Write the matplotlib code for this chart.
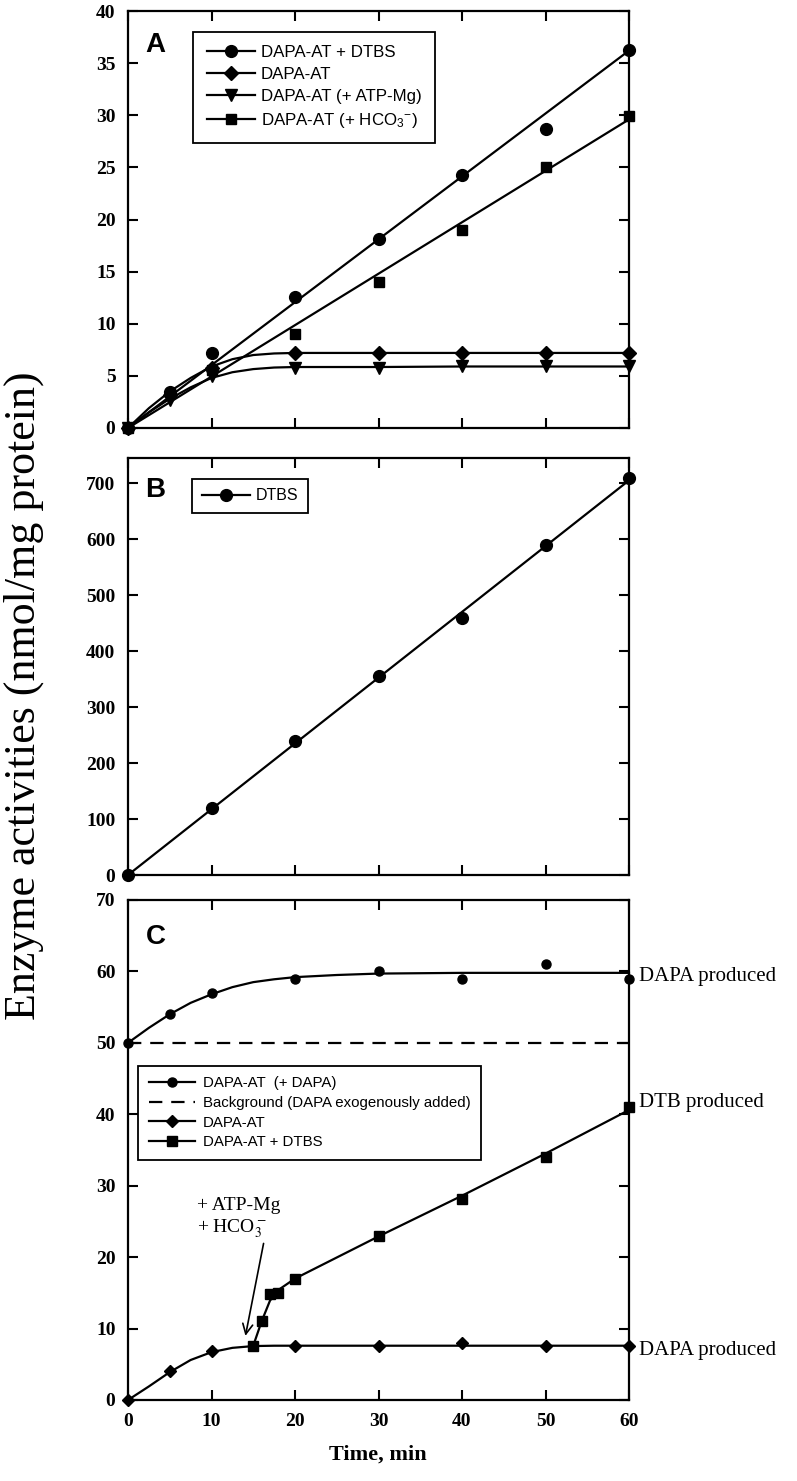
import matplotlib
matplotlib.use("Agg")
import matplotlib.pyplot as plt
from matplotlib.lines import Line2D

plt.rcParams['mathtext.fontset'] = 'custom'
plt.rcParams['mathtext.rm'] = 'Liberation Sans'
plt.rcParams['mathtext.it'] = 'Liberation Sans:italic'
plt.rcParams['mathtext.bf'] = 'Liberation Sans:bold'

SERIF = 'Liberation Serif'
SANS = 'Liberation Sans'

# ---------------- Panel A data ----------------
a_x = [0, 5, 10, 20, 30, 40, 50, 60]
a_dtbs = [0, 3.5, 7.2, 12.6, 18.1, 24.3, 28.7, 36.3]
a_dtbs_fit_x = [0, 60]
a_dtbs_fit_y = [0, 36.2]

a_dapaat = [0, 3.2, 5.8, 7.2, 7.2, 7.2, 7.2, 7.2]
a_dapaat_fit_x = [0, 2.5, 5, 7.5, 10, 12.5, 15, 17.5, 20, 30, 40, 50, 60]
a_dapaat_fit_y = [0, 1.9, 3.5, 4.8, 5.9, 6.6, 7.0, 7.15, 7.2, 7.2, 7.2, 7.2, 7.2]

a_atp = [0, 2.7, 5.0, 5.8, 5.8, 5.9, 5.9, 5.9]
a_atp_fit_x = [0, 2.5, 5, 7.5, 10, 12.5, 15, 17.5, 20, 30, 40, 50, 60]
a_atp_fit_y = [0, 1.5, 2.8, 3.9, 4.8, 5.35, 5.65, 5.8, 5.85, 5.85, 5.9, 5.9, 5.9]

a_hco3_x = [0, 10, 20, 30, 40, 50, 60]
a_hco3 = [0, 5.6, 9.0, 14.0, 19.0, 25.0, 29.9]
a_hco3_fit_x = [0, 60]
a_hco3_fit_y = [0, 29.6]

# ---------------- Panel B data ----------------
b_x = [0, 10, 20, 30, 40, 50, 60]
b_dtbs = [0, 120, 240, 355, 460, 590, 710]
b_fit_x = [0, 60]
b_fit_y = [0, 705]

# ---------------- Panel C data ----------------
c_dapa_x = [0, 5, 10, 20, 30, 40, 50, 60]
c_dapa = [50, 54, 57, 59, 60, 59, 61, 59]
c_dapa_fit_x = [0, 2.5, 5, 7.5, 10, 12.5, 15, 17.5, 20, 25, 30, 40, 50, 60]
c_dapa_fit_y = [50, 52.1, 54.0, 55.6, 56.8, 57.8, 58.5, 58.9, 59.2, 59.5, 59.7, 59.8, 59.8, 59.8]

c_bg_x = [0, 60]
c_bg_y = [50, 50]

c_at_x = [0, 5, 10, 20, 30, 40, 50, 60]
c_at = [0, 4.0, 6.8, 7.6, 7.5, 8.0, 7.5, 7.5]
c_at_fit_x = [0, 2.5, 5, 7.5, 10, 12.5, 15, 17.5, 20, 30, 40, 50, 60]
c_at_fit_y = [0, 1.9, 3.9, 5.6, 6.7, 7.3, 7.55, 7.6, 7.6, 7.6, 7.6, 7.6, 7.6]

c_dtbs_x = [15, 16, 17, 18, 20, 30, 40, 50, 60]
c_dtbs = [7.6, 11.0, 14.8, 15.0, 17.0, 23.0, 28.2, 34.0, 41.0]
c_dtbs_fit_x = [15, 16, 17, 18, 20, 30, 40, 50, 60]
c_dtbs_fit_y = [7.6, 11.0, 13.9, 15.4, 17.0, 22.9, 28.6, 34.5, 40.6]

x_ticks = [0, 10, 20, 30, 40, 50, 60]
a_yticks = [0, 5, 10, 15, 20, 25, 30, 35, 40]
b_yticks = [0, 100, 200, 300, 400, 500, 600, 700]
c_yticks = [0, 10, 20, 30, 40, 50, 60, 70]

W, H = 797, 1481
fig = plt.figure(figsize=(W / 100, H / 100), dpi=100)


def rect(top, bottom, left=128, right=629):
    return [left / W, 1 - bottom / H, (right - left) / W, (bottom - top) / H]


axA = fig.add_axes(rect(11, 428))
axB = fig.add_axes(rect(458, 875))
axC = fig.add_axes(rect(900, 1400))

LW = 1.6
for ax in (axA, axB, axC):
    for s in ax.spines.values():
        s.set_linewidth(1.6)
    ax.set_xlim(0, 60)
    ax.set_xticks(x_ticks)
    ax.tick_params(direction='in', length=7, width=1.5, top=True, right=True,
                   labelsize=14, pad=9)

for ax in (axA, axB):
    ax.tick_params(labelbottom=False)

# ---- Panel A ----
axA.set_ylim(0, 40)
axA.set_yticks(a_yticks)
axA.set_yticklabels([str(v) for v in a_yticks], fontfamily=SERIF, fontweight='bold', fontsize=14)
axA.plot(a_dtbs_fit_x, a_dtbs_fit_y, color='black', lw=LW, clip_on=False)
axA.plot(a_dapaat_fit_x, a_dapaat_fit_y, color='black', lw=LW, clip_on=False)
axA.plot(a_atp_fit_x, a_atp_fit_y, color='black', lw=LW, clip_on=False)
axA.plot(a_hco3_fit_x, a_hco3_fit_y, color='black', lw=LW, clip_on=False)
axA.plot(a_x, a_dtbs, 'o', color='black', ms=8.5, clip_on=False, zorder=5)
axA.plot(a_x, a_dapaat, 'D', color='black', ms=7, clip_on=False, zorder=5)
axA.plot(a_x, a_atp, 'v', color='black', ms=9, clip_on=False, zorder=5)
axA.plot(a_hco3_x, a_hco3, 's', color='black', ms=7.5, clip_on=False, zorder=5)

hA = [Line2D([], [], color='black', lw=LW, marker='o', ms=8.5),
      Line2D([], [], color='black', lw=LW, marker='D', ms=7),
      Line2D([], [], color='black', lw=LW, marker='v', ms=9),
      Line2D([], [], color='black', lw=LW, marker='s', ms=7.5)]
lA = ['DAPA-AT + DTBS', 'DAPA-AT', 'DAPA-AT (+ ATP-Mg)', r'DAPA-AT (+ HCO$_{3}$$^{-}$)']
legA = axA.legend(hA, lA, loc='upper left', bbox_to_anchor=(0.130, 0.950), borderaxespad=0,
                  frameon=True, fancybox=False, edgecolor='black', framealpha=1,
                  prop={'family': SANS, 'size': 12.2}, handlelength=2.85, handletextpad=0.35,
                  labelspacing=0.4, borderpad=0.8, numpoints=1)
legA.get_frame().set_linewidth(1.3)
axA.text(0.035, 0.918, 'A', transform=axA.transAxes, fontfamily=SANS, fontweight='bold',
         fontsize=20, va='center', ha='left')

# ---- Panel B ----
axB.set_ylim(0, 745)
axB.set_yticks(b_yticks)
axB.set_yticklabels([str(v) for v in b_yticks], fontfamily=SERIF, fontweight='bold', fontsize=14)
axB.plot(b_fit_x, b_fit_y, color='black', lw=LW, clip_on=False)
axB.plot(b_x, b_dtbs, 'o', color='black', ms=8.5, clip_on=False, zorder=5)
hB = [Line2D([], [], color='black', lw=LW, marker='o', ms=8.5)]
legB = axB.legend(hB, ['DTBS'], loc='upper left', bbox_to_anchor=(0.128, 0.950), borderaxespad=0,
                  frameon=True, fancybox=False, edgecolor='black', framealpha=1,
                  prop={'family': SANS, 'size': 11.5}, handlelength=3.0, handletextpad=0.4,
                  borderpad=0.6, numpoints=1)
legB.get_frame().set_linewidth(1.3)
axB.text(0.035, 0.923, 'B', transform=axB.transAxes, fontfamily=SANS, fontweight='bold',
         fontsize=20, va='center', ha='left')

# ---- Panel C ----
axC.set_ylim(0, 70)
axC.set_yticks(c_yticks)
axC.set_yticklabels([str(v) for v in c_yticks], fontfamily=SERIF, fontweight='bold', fontsize=14)
axC.set_xticklabels([str(v) for v in x_ticks], fontfamily=SERIF, fontweight='bold', fontsize=14)
axC.tick_params(axis='x', pad=9)
axC.plot(c_dapa_fit_x, c_dapa_fit_y, color='black', lw=LW, clip_on=False)
axC.plot(c_bg_x, c_bg_y, color='black', lw=LW, ls=(0, (6, 4)), clip_on=False)
axC.plot(c_at_fit_x, c_at_fit_y, color='black', lw=LW, clip_on=False)
axC.plot(c_dtbs_fit_x, c_dtbs_fit_y, color='black', lw=LW, clip_on=False)
axC.plot(c_dapa_x, c_dapa, 'o', color='black', ms=6.5, clip_on=False, zorder=5)
axC.plot(c_at_x, c_at, 'D', color='black', ms=6.5, clip_on=False, zorder=5)
axC.plot(c_dtbs_x, c_dtbs, 's', color='black', ms=7.5, clip_on=False, zorder=5)

hC = [Line2D([], [], color='black', lw=LW, marker='o', ms=6.5),
      Line2D([], [], color='black', lw=LW, ls=(0, (6, 4))),
      Line2D([], [], color='black', lw=LW, marker='D', ms=6.5),
      Line2D([], [], color='black', lw=LW, marker='s', ms=7.5)]
lC = ['DAPA-AT  (+ DAPA)', 'Background (DAPA exogenously added)', 'DAPA-AT', 'DAPA-AT + DTBS']
legC = axC.legend(hC, lC, loc='upper left', bbox_to_anchor=(0.02, 0.668), borderaxespad=0,
                  frameon=True, fancybox=False, edgecolor='black', framealpha=1,
                  prop={'family': SANS, 'size': 10.8}, handlelength=3.1, handletextpad=0.5,
                  labelspacing=0.37, borderpad=0.7, numpoints=1)
legC.get_frame().set_linewidth(1.3)
axC.text(0.035, 0.926, 'C', transform=axC.transAxes, fontfamily=SANS, fontweight='bold',
         fontsize=20, va='center', ha='left')

axC.text(61.2, 59.3, 'DAPA produced', fontfamily=SERIF, fontsize=15, va='center', ha='left',
         clip_on=False)
axC.text(61.2, 41.6, 'DTB produced', fontfamily=SERIF, fontsize=15, va='center', ha='left',
         clip_on=False)
axC.text(61.2, 7.0, 'DAPA produced', fontfamily=SERIF, fontsize=15, va='center', ha='left',
         clip_on=False)

axC.text(8.3, 27.3, '+ ATP-Mg', fontfamily=SERIF, fontsize=14, va='center', ha='left')
axC.text(8.3, 24.0, r'+ HCO$_3^-$', fontfamily=SERIF, fontsize=14, va='center', ha='left',
         math_fontfamily='stix')
axC.annotate('', xy=(14.0, 8.6), xytext=(16.3, 22.3),
             arrowprops=dict(arrowstyle='->', lw=1.2, color='black', mutation_scale=18))

fig.text(0.030, 1 - 696 / H, 'Enzyme activities (nmol/mg protein)', rotation=90,
         fontfamily=SERIF, fontsize=31.7, va='center', ha='center')
fig.text(378 / W, 1 - 1455 / H, 'Time, min', fontfamily=SERIF, fontweight='bold',
         fontsize=16, va='center', ha='center')

fig.savefig('out.png', dpi=100)
